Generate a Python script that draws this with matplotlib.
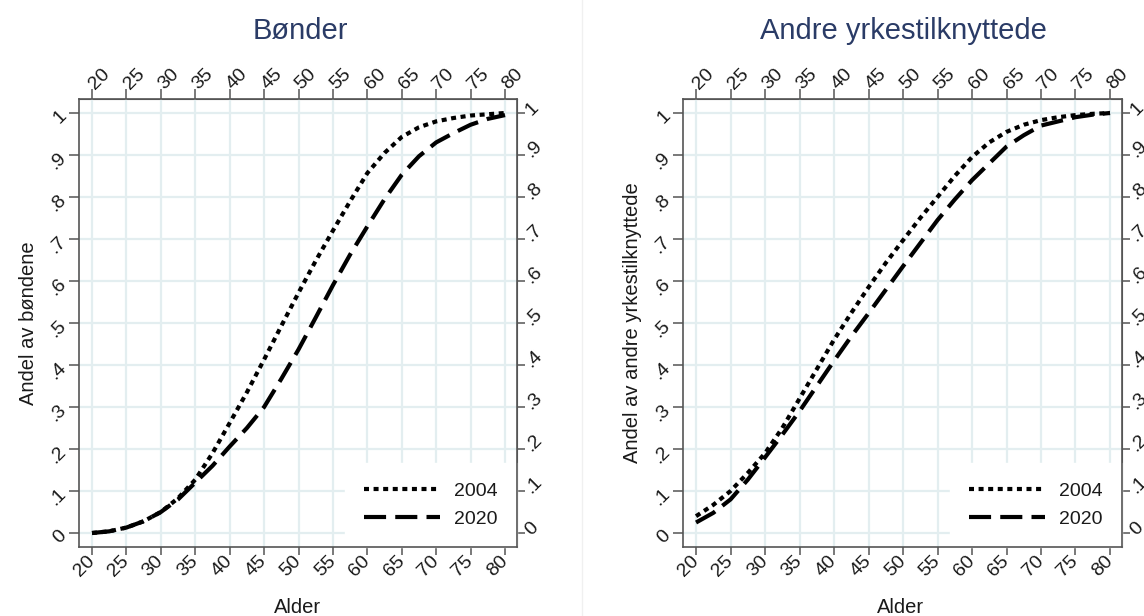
import matplotlib
matplotlib.use("Agg")
import matplotlib.pyplot as plt
from matplotlib.lines import Line2D

plt.rcParams['font.family'] = ['Liberation Sans', 'DejaVu Sans']

# Data (ages 20-80, every 2.5 years)
ages = [20, 22.5, 25, 27.5, 30, 32.5, 35, 37.5, 40, 42.5, 45, 47.5, 50,
        52.5, 55, 57.5, 60, 62.5, 65, 67.5, 70, 72.5, 75, 77.5, 80]
bonder_2004 = [0.0, 0.004, 0.013, 0.028, 0.05, 0.083, 0.127, 0.19, 0.262, 0.335, 0.413, 0.493, 0.572,
               0.648, 0.72, 0.79, 0.857, 0.905, 0.943, 0.966, 0.98, 0.988, 0.994, 0.997, 1.0]
bonder_2020 = [0.0, 0.004, 0.013, 0.028, 0.05, 0.08, 0.12, 0.16, 0.206, 0.25, 0.30, 0.367, 0.437,
               0.513, 0.59, 0.663, 0.73, 0.795, 0.853, 0.897, 0.93, 0.952, 0.972, 0.986, 0.995]
andre_2004 = [0.04, 0.067, 0.10, 0.143, 0.19, 0.25, 0.32, 0.39, 0.46, 0.524, 0.585, 0.643, 0.697,
              0.75, 0.80, 0.85, 0.895, 0.93, 0.955, 0.972, 0.983, 0.99, 0.995, 0.998, 1.0]
andre_2020 = [0.025, 0.048, 0.08, 0.127, 0.18, 0.234, 0.29, 0.35, 0.41, 0.468, 0.523, 0.579, 0.635,
              0.69, 0.745, 0.794, 0.84, 0.88, 0.92, 0.947, 0.97, 0.98, 0.99, 0.996, 1.0]

x_ticks = list(range(20, 85, 5))
y_ticks = [0, 0.1, 0.2, 0.3, 0.4, 0.5, 0.6, 0.7, 0.8, 0.9, 1.0]
y_labels = ['0', '.1', '.2', '.3', '.4', '.5', '.6', '.7', '.8', '.9', '1']

titles = ['Bønder', 'Andre yrkestilknyttede']
ylabels = ['Andel av bøndene', 'Andel av andre yrkestilknyttede']
series = [(bonder_2004, bonder_2020), (andre_2004, andre_2020)]
years = ['2004', '2020']

grid_col = '#e3eef0'
frame_col = '#555555'
title_col = '#2a3b66'
text_col = '#1a1a1a'
tick_size = 14

fig = plt.figure(figsize=(11.44, 6.16), dpi=100)

positions = [[79 / 1144, 69 / 616, 438 / 1144, 448 / 616],
             [683 / 1144, 69 / 616, 439 / 1144, 448 / 616]]
title_x = [300, 903]


def rotate_labels(labels, ha):
    for lab in labels:
        lab.set_rotation(45)
        lab.set_ha(ha)
        lab.set_va('center')
        lab.set_rotation_mode('anchor')


for i in range(2):
    ax = fig.add_axes(positions[i])
    s04, s20 = series[i]
    ax.plot(ages, s04, color='black', lw=3, linestyle=(0, (1.2, 1.1)), label=years[0])
    ax.plot(ages, s20, color='black', lw=3, linestyle=(0, (5.3, 2.2)), label=years[1])

    ax.set_xlim(18.11, 81.74)
    ax.set_ylim(-0.0333, 1.0333)
    ax.set_xticks(x_ticks)
    ax.set_yticks(y_ticks)
    ax.set_yticklabels(y_labels)
    ax.grid(True, color=grid_col, lw=1.6)
    ax.set_axisbelow(True)
    for sp in ax.spines.values():
        sp.set_color(frame_col)
        sp.set_linewidth(1.2)
    ax.tick_params(axis='x', colors=frame_col, labelcolor=text_col, labelsize=tick_size,
                   length=6, width=1.1, pad=2)
    ax.tick_params(axis='y', colors=frame_col, labelcolor=text_col, labelsize=tick_size,
                   length=7, width=1.1, pad=4)
    rotate_labels(ax.get_xticklabels(), 'right')
    rotate_labels(ax.get_yticklabels(), 'right')

    # mirrored axes on top and right
    top = ax.secondary_xaxis('top')
    top.set_xticks(x_ticks)
    top.tick_params(colors=frame_col, labelcolor=text_col, labelsize=tick_size,
                    length=7, width=1.1, pad=2)
    top.spines['top'].set_color(frame_col)
    rotate_labels(top.get_xticklabels(), 'left')
    right = ax.secondary_yaxis('right')
    right.set_yticks(y_ticks)
    right.set_yticklabels(y_labels)
    right.tick_params(colors=frame_col, labelcolor=text_col, labelsize=tick_size,
                      length=6, width=1.1, pad=2)
    right.spines['right'].set_color(frame_col)
    rotate_labels(right.get_yticklabels(), 'left')

    ax.set_ylabel(ylabels[i], fontsize=14.5, color=text_col, labelpad=6)
    fig.text(title_x[i] / 1144, 1 - 39 / 616, titles[i], fontsize=21,
             color=title_col, ha='center', va='baseline')
    fig.text(title_x[i] / 1144 - 2 / 1144, 1 - 613 / 616, 'Alder', fontsize=14.5,
             color=text_col, ha='center', va='baseline')

    leg = ax.legend(loc='lower right', frameon=True, fontsize=14,
                    handlelength=3.9, borderaxespad=0.0, borderpad=1.0,
                    labelspacing=0.5, handletextpad=0.7, fancybox=False)
    leg.get_frame().set_edgecolor('white')
    leg.get_frame().set_facecolor('white')
    leg.get_frame().set_alpha(1)
    leg.set_zorder(2.4)
    for t in leg.get_texts():
        t.set_color(text_col)

# faint separator between the two graphs
fig.add_artist(Line2D([582 / 1144, 582 / 1144], [0, 1], color='#f0f0f0', lw=1))

fig.savefig('out.png', dpi=100)
